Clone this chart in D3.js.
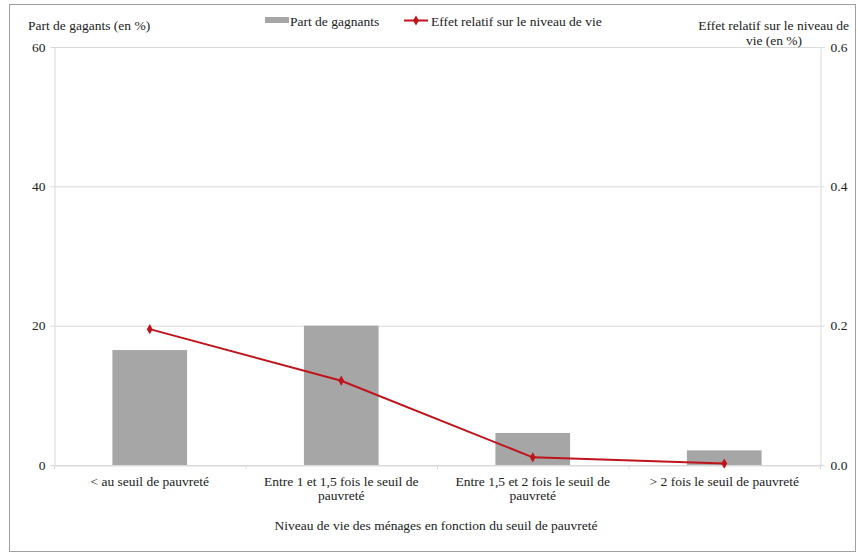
<!DOCTYPE html>
<html><head><meta charset="utf-8">
<script src="https://cdn.jsdelivr.net/npm/d3@7"></script>
<style>body{margin:0;background:#fff;}</style>
</head><body><svg id="c" width="858" height="553"></svg>
<script>
const categories = ["< au seuil de pauvreté", "Entre 1 et 1,5 fois le seuil de pauvreté", "Entre 1,5 et 2 fois le seuil de pauvreté", "> 2 fois le seuil de pauvreté"];
const categoryLines = [["< au seuil de pauvreté"], ["Entre 1 et 1,5 fois le seuil de", "pauvreté"], ["Entre 1,5 et 2 fois le seuil de", "pauvreté"], ["> 2 fois le seuil de pauvreté"]];
const partGagnants = [16.5, 20.0, 4.6, 2.1];
const effetRelatif = [0.195, 0.121, 0.011, 0.002];
const leftTicks = [0, 20, 40, 60];
const rightTicks = [0, 0.2, 0.4, 0.6];

const FONT = "Liberation Serif";
const FS = 13.5;
const svg = d3.select("#c");
const M = {l:54, r:820, t:47, b:465};
svg.append("rect").attr("x",9.5).attr("y",4.5).attr("width",846).attr("height",547).attr("fill","#fff").attr("stroke","#a0a0a0").attr("stroke-width",1);

const x = d3.scaleBand().domain(categories).range([M.l, M.r]).paddingInner(0.61).paddingOuter(0.305);
const xb = d3.scaleBand().domain(categories).range([M.l, M.r]);
const yL = d3.scaleLinear().domain([0,60]).range([M.b, M.t]);
const yR = d3.scaleLinear().domain([0,0.6]).range([M.b, M.t]);

function txt(sel){ return sel.attr("font-family",FONT).attr("font-size",FS).attr("fill","#222"); }

// gridlines
svg.append("g").selectAll("line").data(leftTicks).join("line")
  .attr("x1",M.l).attr("x2",M.r).attr("y1",d=>yL(d)+0.5).attr("y2",d=>yL(d)+0.5)
  .attr("stroke","#d9d9d9").attr("stroke-width",1);

// left axis
const gL = svg.append("g").attr("transform",`translate(${M.l+0.5},0)`)
  .call(d3.axisLeft(yL).tickValues(leftTicks).tickSize(4).tickPadding(5).tickFormat(d3.format("d")));
gL.select(".domain").attr("stroke","#d9d9d9");
gL.selectAll(".tick line").attr("stroke","#d9d9d9");
txt(gL.selectAll("text"));

// right axis
const gR = svg.append("g").attr("transform",`translate(${M.r+0.5},0)`)
  .call(d3.axisRight(yR).tickValues(rightTicks).tickSize(4).tickPadding(6).tickFormat(d3.format(".1f")));
gR.select(".domain").attr("stroke","#d9d9d9");
gR.selectAll(".tick line").attr("stroke","#d9d9d9");
txt(gR.selectAll("text"));

// bars
svg.append("g").selectAll("rect").data(partGagnants).join("rect")
  .attr("x",(d,i)=>x(categories[i])).attr("width",x.bandwidth())
  .attr("y",d=>yL(d)).attr("height",d=>yL(0)-yL(d)).attr("fill","#a6a6a6");

// bottom axis
const gB = svg.append("g").attr("transform",`translate(0,${M.b+0.5})`)
  .call(d3.axisBottom(xb).tickSize(0).tickFormat(""));
gB.select(".domain").attr("stroke","#d9d9d9");
svg.append("g").selectAll("line").data(d3.range(categories.length+1)).join("line")
  .attr("x1",i=>M.l+i*xb.step()+0.5).attr("x2",i=>M.l+i*xb.step()+0.5)
  .attr("y1",M.b).attr("y2",M.b+4).attr("stroke","#d9d9d9");
const lab = txt(svg.append("g").selectAll("text").data(categories).join("text"))
  .attr("x",d=>xb(d)+xb.bandwidth()/2).attr("y",M.b+21)
  .attr("text-anchor","middle");
lab.each(function(d,i){
  const t=d3.select(this);
  categoryLines[i].forEach((s,j)=>t.append("tspan").attr("x",xb(d)+xb.bandwidth()/2).attr("dy",j?14:0).text(s));
});

// line
const line = d3.line().x((d,i)=>xb(categories[i])+xb.bandwidth()/2).y(d=>yR(d));
const red = "#c0141c";
svg.append("path").datum(effetRelatif).attr("d",line).attr("fill","none").attr("stroke",red).attr("stroke-width",2);
svg.append("g").selectAll("path").data(effetRelatif).join("path")
  .attr("d",d3.symbol(d3.symbolDiamond,30))
  .attr("transform",(d,i)=>`translate(${xb(categories[i])+xb.bandwidth()/2},${yR(d)})`)
  .attr("fill",red);

// titles
txt(svg.append("text")).attr("x",28).attr("y",30).text("Part de gagants (en %)");
txt(svg.append("text")).attr("x",849).attr("y",30).attr("text-anchor","end").text("Effet relatif sur le niveau de");
txt(svg.append("text")).attr("x",774).attr("y",45).attr("text-anchor","middle").text("vie (en %)");
txt(svg.append("text")).attr("x",436).attr("y",530).attr("text-anchor","middle").text("Niveau de vie des ménages en fonction du seuil de pauvreté");

// legend
svg.append("rect").attr("x",265).attr("y",17).attr("width",24).attr("height",6).attr("fill","#a6a6a6");
txt(svg.append("text")).attr("x",290).attr("y",26).text("Part de gagnants");
svg.append("line").attr("x1",404).attr("x2",428).attr("y1",20.5).attr("y2",20.5).attr("stroke",red).attr("stroke-width",2);
svg.append("path").attr("d",d3.symbol(d3.symbolDiamond,30)).attr("transform","translate(416,20.5)").attr("fill",red);
txt(svg.append("text")).attr("x",431).attr("y",26).text("Effet relatif sur le niveau de vie");
</script></body></html>
